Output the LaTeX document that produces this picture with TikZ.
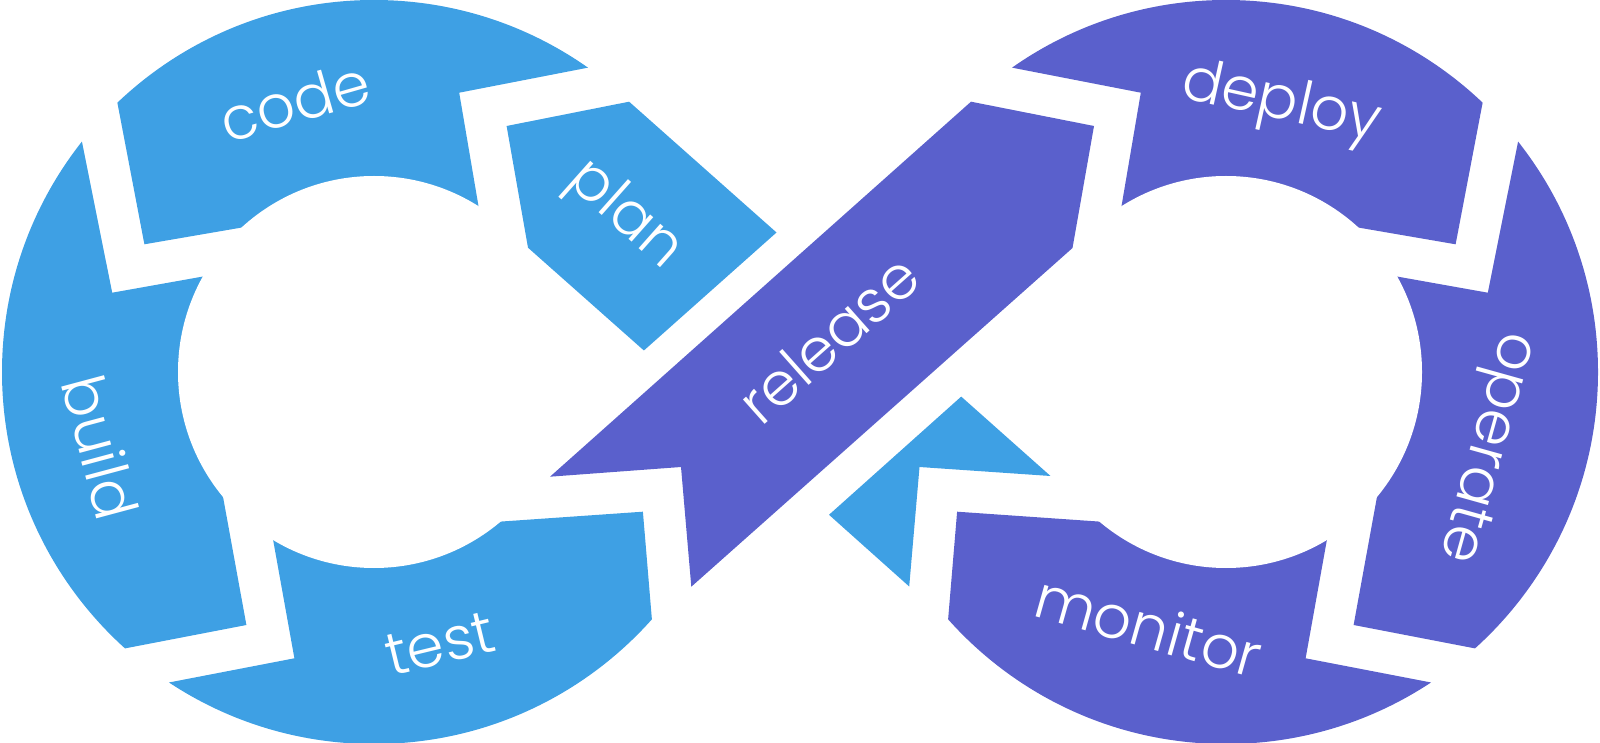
\documentclass[tikz,border=0pt]{standalone}
\usepackage{fontspec}
\setmainfont{Poppins Light}
\definecolor{loopblue}{RGB}{62,160,228}
\definecolor{looppurple}{RGB}{90,96,204}
\tikzset{
  phase/.style={white, font=\fontsize{17}{17}\selectfont, inner sep=0pt},
}
\begin{document}
\begin{tikzpicture}[x=0.01cm, y=-0.01cm]
  \useasboundingbox (0,0) rectangle (1600,743);
  % the two rings, the right one mirrored
  \foreach \sx/\dx/\col in {1/0/loopblue, -1/1600/looppurple}{
    \begin{scope}[shift={(\dx,0)}, xscale=\sx]
      \clip (374,372) circle[radius=372];
      \fill[\col]
        (374,372)--(289,219.4)--(240.8,227.7)--(144.4,244.3)--(117.3,102.3)--(103.7,31.3)
          --(100,-100)--(650,-100)--(652,55.2)--(587.8,67.7)--(459.2,92.7)--(478.6,206.7)
          --(484.4,240.9)--cycle
        (374,372)--(246.9,268.7)--(202,276.7)--(112.2,292.7)--(81.6,140)--(66.3,63.7)
          --(-100,63.7)--(-100,700)--(65,660)--(125.5,648.3)--(246.4,625)--(223,496.7)
          --(216,458.2)--cycle
        (374,372)--(266.6,503.6)--(273,539.3)--(294.4,658.3)--(169.9,682.3)--(107.6,694.3)
          --(100,850)--(700,850)--(656.5,675.2)--(652,620.7)--(642.9,511.7)--(499,521.7)
          --(455.8,524.7)--cycle
      ;
      \fill[white] (374,372) circle[radius=196];
    \end{scope}
  }
  % crossing
  \fill[loopblue] (506.6,126)--(629.1,101.7)--(776.5,232.5)--(643.9,350.5)--(528,247.7)--cycle;
  \fill[loopblue] (961.2,396.6)--(1050.5,476)--(919.5,467)--(909.2,586.5)--(829,514.8)--cycle;
  \fill[looppurple] (550,476.7)--(681,467)--(691.3,586.7)--(1072.5,248)--(1094,126)--(971,101.7)--cycle;
  % labels
  \node[phase, rotate=16] (code) at (295,101) {code};
  \node[phase, rotate=-41.6] (plan) at (624,216) {plan};
  \node[phase, rotate=-75] (build) at (101,447) {build};
  \node[phase, rotate=13.6] (test) at (440,644) {test};
  \node[phase, rotate=41.6] (release) at (828,339) {release};
  \node[phase, rotate=-12.5] (deploy) at (1281,105) {deploy};
  \node[phase, rotate=-105.6] (operate) at (1484,447) {operate};
  \node[phase, rotate=-15.7] (monitor) at (1149,626) {monitor};
\end{tikzpicture}
\end{document}
